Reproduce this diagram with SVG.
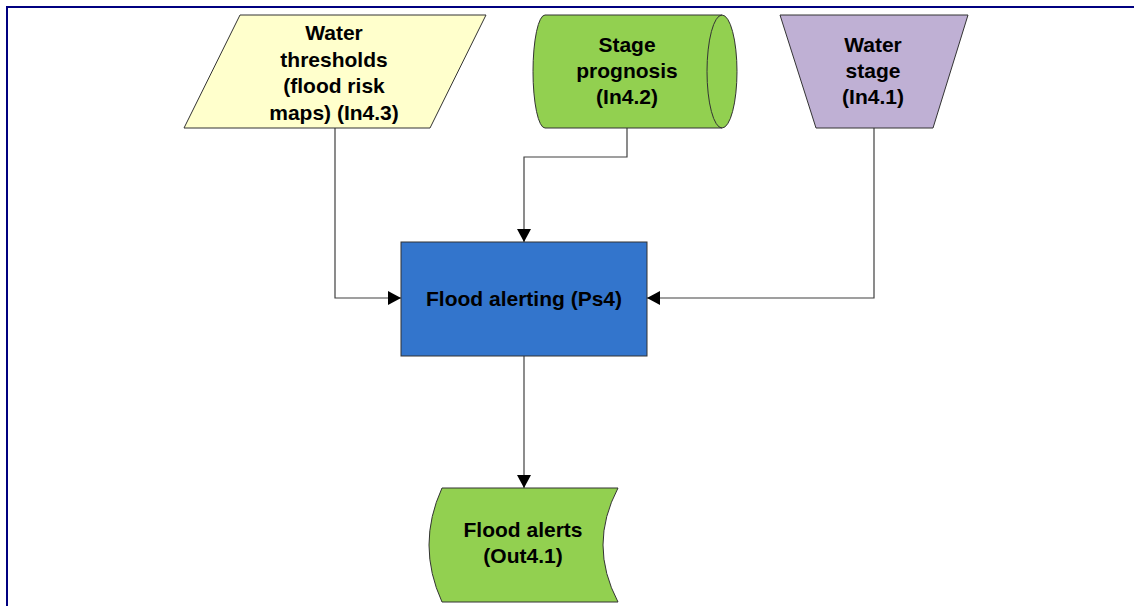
<svg xmlns="http://www.w3.org/2000/svg" width="1134" height="606" viewBox="0 0 1134 606">
<style>
.shape{stroke:#333333;stroke-width:1}
.lbl{font-family:"Liberation Sans",Arial,sans-serif;font-weight:bold;font-size:21px;fill:#000000;text-anchor:middle}
.conn{fill:none;stroke:#404040;stroke-width:1.2}
</style>
<defs>
<marker id="arr" viewBox="0 0 13 14" refX="13" refY="7" markerWidth="13" markerHeight="14" markerUnits="userSpaceOnUse" orient="auto">
<path d="M0,0 L13,7 L0,14 Z" fill="#000000"/>
</marker>
</defs>
<rect x="0" y="0" width="1134" height="606" fill="#ffffff"/>
<path d="M7,610 L7,7 L1140,7" fill="none" stroke="#000080" stroke-width="2"/>
<g id="connectors">
<path class="conn" d="M335,128 L335,298 L401,298" marker-end="url(#arr)"/>
<path class="conn" d="M627,128 L627,157 L524,157 L524,242" marker-end="url(#arr)"/>
<path class="conn" d="M874,128 L874,298 L647,298" marker-end="url(#arr)"/>
<path class="conn" d="M524,356 L524,488" marker-end="url(#arr)"/>
</g>
<g id="water-thresholds">
<path class="shape" d="M240,15 L486,15 L430,128 L184,128 Z" fill="#FFFFCC"/>
<text class="lbl" x="334" y="40">Water</text>
<text class="lbl" x="334" y="66.5">thresholds</text>
<text class="lbl" x="334" y="93">(flood risk</text>
<text class="lbl" x="334" y="119.5">maps) (In4.3)</text>
</g>
<g id="stage-prognosis">
<path class="shape" d="M545,15 L722,15 A15,56.5 0 0 1 722,128 L545,128 A12,56.5 0 0 1 545,15 Z" fill="#92D050"/>
<path class="shape" d="M722,15 A15,56.5 0 0 0 722,128" fill="none"/>
<text class="lbl" x="627" y="52">Stage</text>
<text class="lbl" x="627" y="78">prognosis</text>
<text class="lbl" x="627" y="104">(In4.2)</text>
</g>
<g id="water-stage">
<path class="shape" d="M780,15 L968,15 L933,128 L816,128 Z" fill="#BFB0D4"/>
<text class="lbl" x="873" y="52">Water</text>
<text class="lbl" x="873" y="78">stage</text>
<text class="lbl" x="873" y="104">(In4.1)</text>
</g>
<g id="flood-alerting">
<rect class="shape" x="401" y="242" width="246" height="114" fill="#3375CC"/>
<text class="lbl" x="524" y="306">Flood alerting (Ps4)</text>
</g>
<g id="flood-alerts">
<path class="shape" d="M442,488 L618,488 Q588,545 618,602 L442,602 Q416,545 442,488 Z" fill="#92D050"/>
<text class="lbl" x="523" y="537">Flood alerts</text>
<text class="lbl" x="523" y="563">(Out4.1)</text>
</g>
</svg>
